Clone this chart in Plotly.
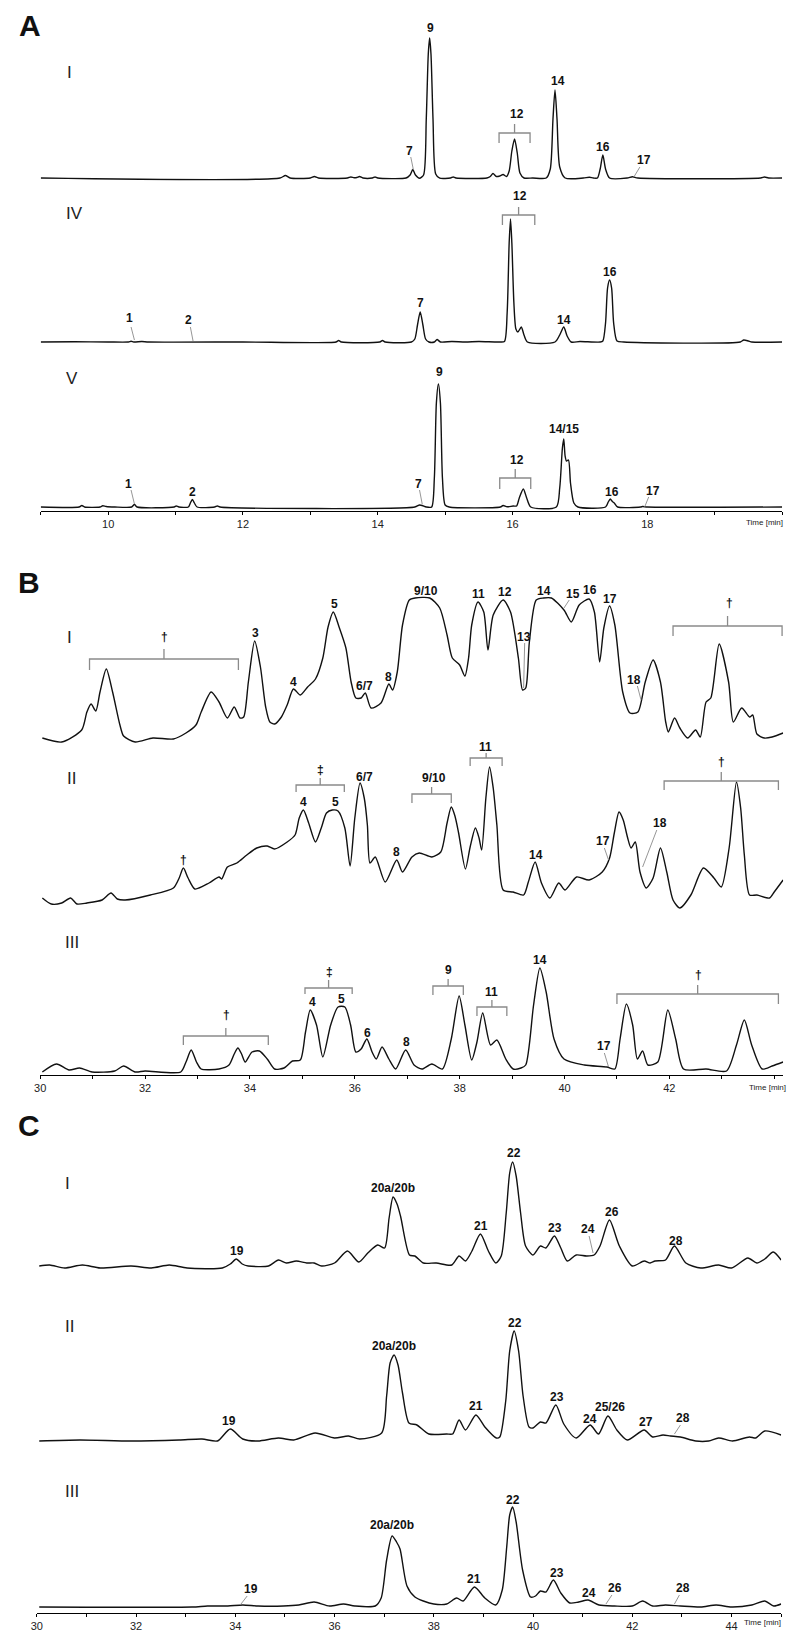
import plotly.graph_objects as go

W, H = 800, 1647

# ---------------------------------------------------------------------------
# chromatogram data: (retention time [min], detector signal [a.u.])
# ---------------------------------------------------------------------------
a1_points = [(9.00, 1), (12.55, 1), (12.63, 3.5), (12.70, 1), (13.00, 1), (13.06, 2.5), (13.12, 1),
             (13.55, 1), (13.60, 2), (13.65, 1.2), (13.69, 1.5), (13.73, 2.5), (13.78, 1), (13.92, 1),
             (13.96, 2), (14.00, 1), (14.42, 1), (14.48, 4), (14.52, 9.5), (14.56, 4), (14.62, 0.8),
             (14.68, 4), (14.72, 60), (14.75, 125), (14.77, 141), (14.79, 125), (14.82, 60), (14.86, 5),
             (14.92, 0.8), (15.08, 1), (15.12, 2), (15.16, 1), (15.62, 1), (15.67, 2.5), (15.71, 5.5),
             (15.76, 2.5), (15.81, 3), (15.86, 4.5), (15.91, 2.5), (15.95, 8), (15.99, 28), (16.03, 40),
             (16.07, 26), (16.11, 6), (16.17, 1), (16.30, 1), (16.50, 1), (16.56, 10), (16.60, 60),
             (16.63, 89), (16.66, 60), (16.70, 12), (16.78, 1), (17.05, 1), (17.14, 1.8), (17.20, 1),
             (17.26, 1), (17.30, 10), (17.34, 24), (17.38, 10), (17.44, 1), (17.70, 1), (17.78, 2.2),
             (17.86, 1), (19.68, 1), (19.74, 2), (19.80, 1), (20.00, 1)]

a4_points = [(9.00, 1), (9.50, 1.3), (10.00, 1), (10.30, 1), (10.34, 1.8), (10.38, 1), (10.50, 1.5),
             (10.60, 1), (12.00, 1), (13.38, 1), (13.42, 2.5), (13.46, 1), (14.03, 1), (14.07, 2.5),
             (14.11, 1), (14.50, 1), (14.55, 4), (14.59, 18), (14.63, 31), (14.67, 18), (14.71, 4),
             (14.76, 1), (14.84, 1), (14.88, 3.5), (14.93, 1), (15.10, 1.5), (15.30, 1), (15.50, 1.5),
             (15.80, 1), (15.88, 1.5), (15.92, 30), (15.95, 100), (15.97, 124), (15.99, 100), (16.02, 40),
             (16.05, 14), (16.08, 11), (16.13, 16), (16.17, 8), (16.22, 1), (16.63, 1), (16.70, 8),
             (16.76, 16), (16.81, 7), (16.87, 1), (17.00, 1.5), (17.30, 1), (17.34, 2), (17.38, 20),
             (17.41, 55), (17.44, 63), (17.47, 55), (17.50, 20), (17.55, 2), (17.65, 1), (19.38, 1),
             (19.43, 3), (19.50, 2), (19.55, 1), (20.00, 1)]

a5_points = [(9.00, 1), (9.57, 1), (9.61, 2.5), (9.65, 1), (9.88, 1), (9.92, 2.2), (9.97, 1.5), (10.10, 1),
             (10.35, 1), (10.39, 3.5), (10.43, 1), (10.98, 1), (11.01, 2), (11.05, 1), (11.19, 1),
             (11.22, 5), (11.25, 8.5), (11.28, 5), (11.32, 1), (11.58, 1), (11.62, 2), (11.66, 1),
             (14.55, 1), (14.62, 3), (14.66, 2.5), (14.72, 1), (14.80, 1), (14.84, 30), (14.87, 105),
             (14.90, 124), (14.93, 105), (14.96, 30), (15.00, 3), (15.06, 1), (15.82, 1), (15.86, 2.5),
             (15.92, 1.2), (16.01, 2), (16.06, 2), (16.10, 10), (16.16, 19), (16.21, 10), (16.27, 1),
             (16.65, 1), (16.70, 20), (16.74, 60), (16.76, 69), (16.78, 52), (16.80, 47), (16.83, 48),
             (16.86, 25), (16.91, 5), (16.97, 1), (17.38, 1), (17.42, 6), (17.45, 9), (17.48, 6.5),
             (17.51, 5), (17.56, 1), (17.90, 1), (17.93, 1.5), (18.00, 1), (20.00, 1)]

b1_points = [(30.04, 4), (30.41, 0), (30.79, 12), (30.89, 30), (30.97, 38), (31.06, 31), (31.14, 50),
             (31.26, 73), (31.38, 50), (31.52, 17), (31.59, 6), (31.81, 0), (32.15, 4), (32.54, 3),
             (32.78, 9), (32.97, 17), (33.07, 30), (33.26, 50), (33.41, 40), (33.57, 24), (33.70, 35),
             (33.81, 24), (33.88, 25), (33.97, 60), (34.09, 101), (34.20, 75), (34.30, 35), (34.38, 20),
             (34.47, 18), (34.60, 25), (34.71, 37), (34.83, 53), (34.96, 47), (35.10, 55), (35.25, 63),
             (35.39, 84), (35.49, 115), (35.59, 130), (35.70, 115), (35.83, 94), (35.93, 60), (36.02, 44),
             (36.12, 44), (36.20, 49), (36.31, 34), (36.50, 39), (36.65, 58), (36.72, 52), (36.81, 70),
             (36.91, 117), (37.04, 142), (37.15, 144), (37.43, 144), (37.62, 134), (37.76, 107),
             (37.86, 84), (38.00, 77), (38.10, 66), (38.17, 84), (38.23, 117), (38.35, 140), (38.46, 130),
             (38.54, 92), (38.64, 127), (38.83, 142), (38.97, 130), (39.12, 84), (39.20, 52), (39.26, 54),
             (39.33, 100), (39.46, 142), (39.60, 144), (39.75, 144), (39.99, 132), (40.13, 120),
             (40.28, 137), (40.47, 143), (40.57, 130), (40.67, 80), (40.75, 114), (40.86, 136),
             (40.96, 117), (41.11, 50), (41.25, 29), (41.40, 30), (41.54, 60), (41.69, 82), (41.83, 60),
             (41.93, 20), (41.98, 10), (42.10, 24), (42.20, 14), (42.35, 4), (42.50, 12), (42.59, 5),
             (42.70, 40), (42.79, 44), (42.95, 98), (43.13, 60), (43.22, 20), (43.38, 34), (43.53, 25),
             (43.59, 27), (43.67, 8), (43.81, 4), (43.96, 5), (44.17, 9)]

b2_points = [(30.04, 10), (30.21, 4), (30.41, 5), (30.58, 10), (30.70, 4), (30.89, 5), (31.18, 8),
             (31.35, 15), (31.47, 9), (31.62, 8), (32.10, 13), (32.54, 20), (32.65, 30), (32.73, 40),
             (32.82, 30), (32.95, 19), (33.22, 25), (33.41, 31), (33.46, 29), (33.57, 41), (33.75, 45),
             (33.94, 53), (34.13, 60), (34.33, 62), (34.47, 59), (34.71, 66), (34.86, 73), (34.94, 90),
             (35.02, 98), (35.12, 85), (35.25, 66), (35.36, 80), (35.46, 95), (35.57, 98), (35.68, 97),
             (35.81, 80), (35.91, 42), (36.00, 90), (36.10, 125), (36.18, 110), (36.24, 83), (36.29, 45),
             (36.39, 51), (36.58, 26), (36.80, 48), (36.91, 36), (37.09, 51), (37.23, 55), (37.47, 51),
             (37.64, 56), (37.76, 85), (37.84, 101), (37.91, 92), (37.98, 75), (38.11, 39), (38.20, 61),
             (38.30, 80), (38.37, 70), (38.42, 58), (38.50, 110), (38.57, 141), (38.64, 120), (38.71, 83),
             (38.83, 18), (39.02, 16), (39.22, 13), (39.31, 26), (39.44, 46), (39.56, 25), (39.72, 10),
             (39.89, 25), (40.01, 18), (40.23, 31), (40.47, 28), (40.72, 36), (40.86, 50), (40.95, 75),
             (41.04, 96), (41.12, 88), (41.20, 71), (41.27, 60), (41.35, 66), (41.44, 36), (41.56, 20),
             (41.69, 30), (41.83, 60), (41.95, 36), (42.07, 8), (42.20, 0), (42.41, 13), (42.65, 40),
             (42.85, 30), (42.99, 21), (43.14, 60), (43.28, 126), (43.36, 100), (43.43, 53), (43.53, 13),
             (43.67, 13), (43.91, 10), (44.00, 16), (44.17, 28)]

b3_points = [(30.04, 0), (30.31, 8), (30.55, 2), (30.75, 4), (30.99, 0), (31.42, 1), (31.59, 6), (31.81, 0),
             (32.00, 1), (32.68, 0), (32.78, 10), (32.88, 22), (32.98, 10), (33.07, 3), (33.41, 3),
             (33.60, 7), (33.70, 18), (33.77, 24), (33.84, 18), (33.91, 10), (34.04, 20), (34.18, 21),
             (34.33, 13), (34.47, 3), (34.65, 4), (34.81, 11), (34.96, 12), (35.06, 40), (35.15, 62),
             (35.27, 47), (35.39, 15), (35.54, 47), (35.68, 65), (35.81, 65), (35.92, 47), (36.02, 20),
             (36.12, 23), (36.23, 33), (36.33, 20), (36.41, 13), (36.52, 25), (36.65, 13), (36.78, 3),
             (36.97, 22), (37.13, 7), (37.28, 3), (37.47, 8), (37.67, 3), (37.84, 33), (37.99, 76),
             (38.10, 47), (38.23, 12), (38.33, 30), (38.44, 59), (38.59, 27), (38.71, 32), (38.88, 13),
             (39.02, 3), (39.17, 4), (39.26, 7), (39.41, 67), (39.53, 104), (39.65, 80), (39.80, 33),
             (39.99, 13), (40.38, 7), (40.81, 5), (40.96, 3), (41.06, 33), (41.18, 68), (41.30, 47),
             (41.39, 13), (41.49, 21), (41.59, 7), (41.78, 10), (41.97, 62), (42.12, 33), (42.27, 3),
             (42.70, 3), (43.09, 1), (43.28, 27), (43.43, 52), (43.57, 27), (43.77, 3), (43.96, 6),
             (44.17, 10)]

c1_points = [(30.05, 2), (30.26, 3), (30.56, 0), (30.92, 3), (31.28, 0), (31.90, 2), (32.31, 0), (32.67, 3),
             (33.03, 0), (33.74, 0), (33.90, 4), (34.02, 9), (34.14, 4), (34.26, 2), (34.67, 2), (34.87, 8),
             (35.03, 5), (35.23, 7), (35.44, 5), (35.59, 5), (35.74, 2), (36.00, 5), (36.26, 17),
             (36.49, 6), (36.67, 15), (36.87, 23), (37.01, 20), (37.10, 50), (37.18, 71), (37.26, 64),
             (37.33, 52), (37.51, 13), (37.62, 12), (37.79, 5), (38.05, 5), (38.36, 3), (38.51, 12),
             (38.64, 7), (38.77, 17), (38.94, 34), (39.10, 17), (39.25, 5), (39.36, 12), (39.46, 55),
             (39.53, 95), (39.59, 106), (39.66, 92), (39.75, 55), (39.85, 22), (40.00, 13), (40.15, 22),
             (40.26, 20), (40.43, 32), (40.56, 20), (40.69, 7), (40.87, 13), (41.08, 12), (41.23, 13),
             (41.35, 22), (41.54, 48), (41.74, 22), (42.00, 2), (42.24, 7), (42.36, 5), (42.46, 7),
             (42.67, 8), (42.85, 22), (43.08, 5), (43.38, 0), (43.74, 3), (44.00, 0), (44.33, 10),
             (44.51, 5), (44.67, 9), (44.84, 16), (45.00, 8)]

c2_points = [(30.05, 0), (30.87, 1), (31.90, 0), (32.87, 1), (33.33, 2), (33.64, 0), (33.90, 12), (34.15, 2),
             (34.46, 0), (34.87, 3), (35.18, 1), (35.61, 8), (36.00, 3), (36.28, 5), (36.51, 2), (36.95, 8),
             (37.05, 45), (37.12, 78), (37.20, 86), (37.28, 76), (37.37, 48), (37.50, 18), (37.66, 16),
             (37.90, 7), (38.26, 7), (38.38, 7), (38.51, 21), (38.64, 11), (38.85, 26), (39.03, 14),
             (39.26, 3), (39.33, 4), (39.45, 40), (39.53, 90), (39.62, 110), (39.71, 90), (39.80, 45),
             (39.92, 14), (40.00, 13), (40.15, 19), (40.26, 18), (40.46, 36), (40.62, 17), (40.87, 3),
             (41.15, 16), (41.32, 7), (41.51, 25), (41.69, 11), (41.90, 1), (42.24, 11), (42.41, 4),
             (42.62, 6), (42.77, 5), (42.97, 4), (43.28, 0), (43.54, 0), (43.74, 3), (44.02, 0),
             (44.36, 4), (44.49, 3), (44.67, 10), (45.00, 6)]

c3_points = [(30.05, 0), (33.13, 0), (33.44, 1), (33.85, 1), (34.15, 2), (34.46, 1), (34.97, 1), (35.28, 2),
             (35.59, 5), (35.90, 1), (36.18, 3), (36.41, 1), (36.82, 1), (36.94, 9), (37.05, 47),
             (37.16, 71), (37.25, 65), (37.32, 58), (37.46, 21), (37.62, 10), (37.79, 6), (38.00, 3),
             (38.26, 3), (38.46, 9), (38.59, 6), (38.82, 20), (39.03, 9), (39.25, 2), (39.38, 17),
             (39.47, 60), (39.53, 92), (39.59, 100), (39.66, 85), (39.79, 37), (39.95, 10), (40.05, 11),
             (40.15, 16), (40.26, 15), (40.41, 27), (40.56, 14), (40.74, 4), (40.92, 5), (41.11, 7),
             (41.33, 2), (41.64, 1), (42.00, 1), (42.21, 6), (42.41, 1), (42.67, 2), (42.97, 1),
             (43.38, 0), (43.69, 2), (44.00, 0), (44.41, 2), (44.67, 6), (44.85, 1), (45.00, 3)]

# peak labels: (text, time, height above baseline)
a1_labels = [("7", 14.47, 28), ("9", 14.79, 151), ("12", 16.06, 65), ("14", 16.67, 98), ("16", 17.34, 32),
             ("17", 17.95, 19)]
a4_labels = [("1", 10.32, 25), ("2", 11.19, 23), ("7", 14.64, 40), ("12", 16.11, 147), ("14", 16.76, 23),
             ("16", 17.44, 71)]
a5_labels = [("1", 10.30, 24), ("2", 11.25, 16), ("7", 14.60, 24), ("9", 14.92, 136), ("12", 16.06, 48),
             ("14/15", 16.76, 79), ("16", 17.48, 16), ("17", 18.08, 17)]
b1_labels = [("†", 32.37, 105), ("3", 34.10, 109), ("4", 34.83, 60), ("5", 35.61, 138), ("6/7", 36.18, 56),
             ("8", 36.65, 65), ("9/10", 37.36, 151), ("11", 38.36, 148), ("12", 38.86, 150), ("13", 39.22, 105),
             ("14", 39.60, 151), ("15", 40.16, 148), ("16", 40.49, 152), ("17", 40.86, 143), ("18", 41.32, 62),
             ("†", 43.14, 139)]
b2_labels = [("†", 32.73, 48), ("‡", 35.34, 138), ("4", 35.02, 106), ("5", 35.64, 106), ("6/7", 36.18, 131),
             ("8", 36.80, 56), ("9/10", 37.52, 130), ("11", 38.49, 161), ("14", 39.46, 53), ("17", 40.74, 67),
             ("18", 41.83, 85), ("†", 42.99, 146)]
b3_labels = [("†", 33.55, 57), ("‡", 35.51, 100), ("4", 35.19, 70), ("5", 35.75, 73), ("6", 36.24, 39),
             ("8", 36.99, 30), ("9", 37.79, 102), ("11", 38.61, 80), ("14", 39.54, 112), ("17", 40.75, 26),
             ("†", 42.56, 97)]
c1_labels = [("19", 34.03, 17), ("20a/20b", 37.18, 80), ("21", 38.95, 42), ("22", 39.62, 115), ("23", 40.44, 40),
             ("24", 41.10, 39), ("26", 41.59, 56), ("28", 42.89, 27)]
c2_labels = [("19", 33.87, 20), ("20a/20b", 37.20, 95), ("21", 38.85, 35), ("22", 39.64, 118), ("23", 40.49, 44),
             ("24", 41.15, 22), ("25/26", 41.56, 34), ("27", 42.28, 19), ("28", 43.02, 23)]
c3_labels = [("19", 34.31, 18), ("20a/20b", 37.16, 82), ("21", 38.82, 28), ("22", 39.59, 107), ("23", 40.49, 34),
             ("24", 41.13, 14), ("26", 41.66, 19), ("28", 43.03, 19)]

# brackets: (left time, right time, bar height, leg end, stem top)
a1_brackets = [(15.80, 16.26, 46, 36, 55)]
a4_brackets = [(15.85, 16.33, 128, 118, 136)]
a5_brackets = [(15.81, 16.27, 30, 19, 39)]
b1_brackets = [(30.94, 33.78, 83, 72, 93), (42.07, 44.15, 116, 106, 126)]
b2_brackets = [(34.88, 35.80, 123, 116, 130), (37.09, 37.84, 114, 105, 121), (38.20, 38.81, 150, 142, 155),
               (41.90, 44.08, 127, 118, 136)]
b3_brackets = [(32.73, 34.35, 36, 27, 44), (35.05, 35.95, 84, 78, 92), (37.49, 38.07, 86, 77, 93),
               (38.33, 38.90, 65, 56, 72), (41.00, 44.08, 78, 68, 87)]

# leader lines from label to peak: (t0, h0, t1, h1)
a1_leaders = [(14.49, 22, 14.53, 9), (17.89, 12, 17.80, 2)]
a4_leaders = [(10.34, 16, 10.39, 3), (11.22, 16, 11.26, 2)]
a5_leaders = [(10.34, 18, 10.39, 4), (14.62, 18, 14.66, 4), (18.02, 11, 17.96, 1)]
b1_leaders = [(39.24, 99, 39.22, 54), (40.09, 142, 39.99, 134), (41.39, 56, 41.46, 42)]
b2_leaders = [(40.76, 60, 40.84, 48), (41.76, 78, 41.49, 41)]
b3_leaders = [(40.76, 19, 40.84, 5)]
c1_leaders = [(41.13, 32, 41.21, 15)]
c2_leaders = [(42.97, 16, 42.85, 7)]
c3_leaders = [(34.24, 11, 34.10, 2), (41.59, 12, 41.47, 3), (42.95, 12, 42.85, 3)]

LABEL_FONT = "Liberation Sans Narrow, Arial Narrow, Liberation Sans, Arial, sans-serif"
TICK_FONT = "Liberation Sans, Arial, sans-serif"


def py(row):
    return 1 - row / H


def px(col):
    return col / W


def paper_text(col, row, text, font):
    return dict(x=px(col), y=py(row), xref="paper", yref="paper", text=text, showarrow=False,
                xanchor="center", yanchor="middle", font=font)


# x axes: pixel span, range, row of axis line, labelled ticks, "Time [min]" position
xaxes = {
    "x": dict(span=(35, 782), rng=[9, 20], row=511, ticks=range(9, 21), labelled=[10, 12, 14, 16, 18],
              time_at=(764, 523)),
    "x2": dict(span=(34.5, 783), rng=[30, 44.17], row=1075, ticks=range(30, 45),
               labelled=[30, 32, 34, 36, 38, 40, 42], time_at=(767, 1087)),
    "x3": dict(span=(31, 781), rng=[30, 45], row=1613, ticks=range(30, 46),
               labelled=[30, 32, 34, 36, 38, 40, 42, 44], time_at=(762, 1622)),
}

rows = [
    ("x", a1_points, 179, "I", (64, 72), a1_labels, a1_brackets, a1_leaders),
    ("x", a4_points, 343, "IV", (69, 213), a4_labels, a4_brackets, a4_leaders),
    ("x", a5_points, 508, "V", (67, 378), a5_labels, a5_brackets, a5_leaders),
    ("x2", b1_points, 742, "I", (64, 638), b1_labels, b1_brackets, b1_leaders),
    ("x2", b2_points, 908, "II", (66, 778), b2_labels, b2_brackets, b2_leaders),
    ("x2", b3_points, 1072, "III", (67, 942), b3_labels, b3_brackets, b3_leaders),
    ("x3", c1_points, 1268, "I", (62, 1183), c1_labels, [], c1_leaders),
    ("x3", c2_points, 1441, "II", (64, 1326), c2_labels, [], c2_leaders),
    ("x3", c3_points, 1607, "III", (67, 1491), c3_labels, [], c3_leaders),
]

fig = go.Figure()
layout = {}
annotations = []
shapes = []

for name, ax in xaxes.items():
    key = "xaxis" if name == "x" else "xaxis" + name[1:]
    layout[key] = dict(
        domain=[px(ax["span"][0]), px(ax["span"][1])], range=ax["rng"], anchor="free",
        position=py(ax["row"]), showline=True, linecolor="black", linewidth=1.2,
        ticks="outside", ticklen=3, tickwidth=1, tickcolor="black",
        tickmode="array", tickvals=list(ax["ticks"]),
        ticktext=[str(t) if t in ax["labelled"] else "" for t in ax["ticks"]],
        tickfont=dict(family=TICK_FONT, size=11, color="#222"),
        showgrid=False, zeroline=False, fixedrange=True,
    )
    annotations.append(paper_text(*ax["time_at"], "Time [min]", dict(family=TICK_FONT, size=8, color="#222")))

PAD = 8
for i, (xa, pts, base, numeral, npos, labels, brackets, leaders) in enumerate(rows):
    yname = "y" if i == 0 else f"y{i + 1}"
    ykey = "yaxis" if i == 0 else f"yaxis{i + 1}"
    top = min(190, base - 2)
    layout[ykey] = dict(domain=[py(base + PAD), py(base - top)], range=[-PAD, top], anchor=xa,
                        visible=False, fixedrange=True)
    fig.add_trace(go.Scatter(
        x=[p[0] for p in pts], y=[p[1] for p in pts], xaxis=xa, yaxis=yname, mode="lines",
        line=dict(color="#111", width=1.4, shape="spline", smoothing=0.7),
        hoverinfo="skip", showlegend=False,
    ))
    annotations.append(paper_text(*npos, numeral, dict(family=LABEL_FONT, size=17, color="#222")))
    for text, t, h in labels:
        annotations.append(dict(x=t, y=h, xref=xa, yref=yname, text=text, showarrow=False,
                                xanchor="center", yanchor="middle",
                                font=dict(family=LABEL_FONT, size=12, color="#111", weight="bold")))
    for t0, t1, bar, leg, stem in brackets:
        tm = (t0 + t1) / 2
        shapes.append(dict(type="path", xref=xa, yref=yname,
                           path=f"M {t0},{leg} L {t0},{bar} L {t1},{bar} L {t1},{leg} M {tm},{bar} L {tm},{stem}",
                           line=dict(color="#8a8a8a", width=1.3)))
    for t0, h0, t1, h1 in leaders:
        shapes.append(dict(type="line", xref=xa, yref=yname, x0=t0, y0=h0, x1=t1, y1=h1,
                           line=dict(color="#8a8a8a", width=0.9)))

for letter, pos in {"A": (24, 25), "B": (23, 582), "C": (23, 1125)}.items():
    annotations.append(paper_text(*pos, letter, dict(family="Liberation Sans, Arial, sans-serif", size=30,
                                                     color="#111", weight="bold")))

fig.update_layout(
    width=W, height=H, margin=dict(l=0, r=0, t=0, b=0),
    paper_bgcolor="white", plot_bgcolor="rgba(0,0,0,0)",
    annotations=annotations, shapes=shapes, showlegend=False, **layout,
)

# page body has a default margin; drop it so the figure sits at the window origin
fig.write_html("out.html", config={"displayModeBar": False},
               post_script="document.body.style.margin = '0';")
